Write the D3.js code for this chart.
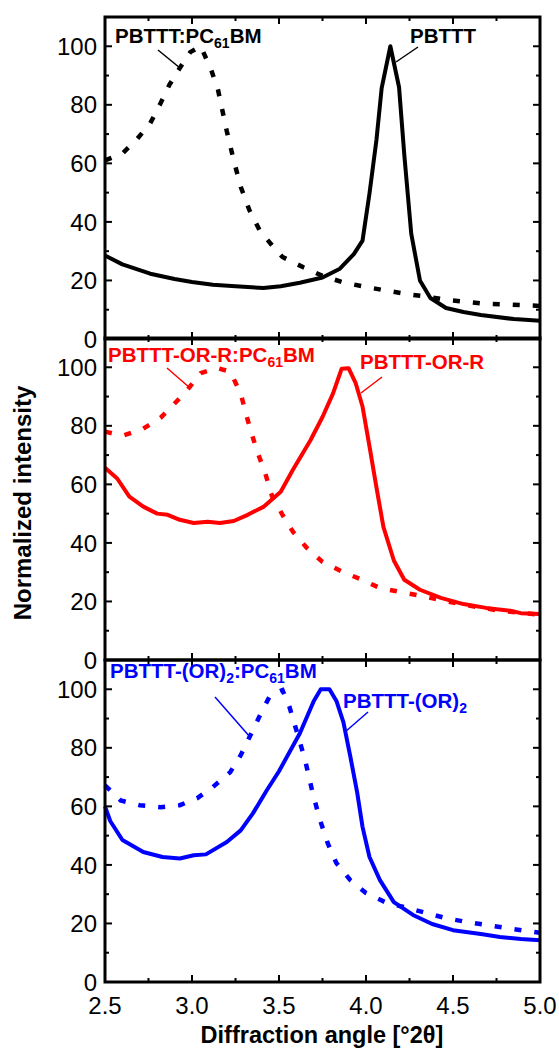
<!DOCTYPE html>
<html>
<head>
<meta charset="utf-8">
<script src="https://cdn.jsdelivr.net/npm/d3@7"></script>
<style>
  body { margin: 0; background: #fff; }
  text { font-family: "Liberation Sans", Arial, sans-serif; }
</style>
</head>
<body>
<script>
// diffraction angle / normalized intensity
var pbttt = [[2.5,28.5],[2.6,25.5],[2.76,22.3],[2.9,20.5],[3.0,19.5],[3.12,18.5],[3.25,18.0],[3.41,17.4],[3.51,18.0],[3.62,19.2],[3.75,21],[3.85,24],[3.93,29],[3.98,33.6],[4.02,49.7],[4.06,68],[4.09,85.7],[4.14,100],[4.19,86],[4.22,63],[4.26,36],[4.31,20],[4.37,14],[4.46,10.6],[4.56,9.2],[4.66,8.2],[4.85,6.8],[5.0,6.2]];
var pbtttBlend = [[2.5,61],[2.6,63.4],[2.68,68],[2.76,73.7],[2.82,80.6],[2.87,86.8],[2.93,92.6],[2.99,98],[3.05,100],[3.11,92],[3.15,85],[3.2,71],[3.24,61],[3.28,52],[3.33,44],[3.39,37],[3.46,32],[3.52,28],[3.64,24.5],[3.75,21.6],[3.87,19.3],[3.98,18],[4.12,16.5],[4.24,15.3],[4.35,14.5],[4.46,13.4],[4.58,12.7],[4.69,12],[4.81,11.8],[4.92,11.5],[5.0,11.3]];

var orR = [[2.5,65.7],[2.57,62],[2.64,55.8],[2.72,52.4],[2.8,50],[2.86,49.6],[2.93,47.9],[3.01,46.8],[3.09,47.2],[3.16,46.8],[3.24,47.5],[3.32,49.6],[3.41,52.3],[3.51,57.5],[3.58,65],[3.68,75],[3.75,83],[3.81,91],[3.86,99.5],[3.9,99.7],[3.94,94.7],[3.98,86.6],[4.02,73],[4.06,59],[4.1,45.5],[4.16,34],[4.22,27.4],[4.31,24],[4.43,21.2],[4.56,19.1],[4.69,17.8],[4.83,16.8],[4.89,16],[5.0,15.7]];
var orRBlend = [[2.5,78],[2.6,76.6],[2.72,79],[2.82,82.8],[2.89,87],[2.97,92],[3.05,98],[3.14,99.8],[3.22,98.5],[3.28,91],[3.32,82],[3.37,72],[3.42,64],[3.46,56],[3.52,49.6],[3.58,43.8],[3.66,38.3],[3.75,33.5],[3.87,30],[3.97,27.6],[4.08,24.6],[4.2,23.2],[4.31,22],[4.45,20.2],[4.6,18.5],[4.75,17],[4.9,16],[5.0,15.5]];

var or2 = [[2.5,60],[2.53,55],[2.6,48.5],[2.72,44.4],[2.83,42.7],[2.93,42.2],[3.01,43.3],[3.08,43.6],[3.2,47.8],[3.28,51.8],[3.35,57.6],[3.43,65.5],[3.5,72],[3.62,85],[3.7,96],[3.74,100],[3.79,100],[3.83,96],[3.87,88.8],[3.91,77],[3.95,64.5],[3.98,53],[4.02,42.7],[4.08,34.8],[4.16,27.3],[4.27,22.9],[4.38,19.8],[4.5,17.7],[4.66,16.4],[4.77,15.4],[4.89,14.7],[5.0,14.3]];
var or2Blend = [[2.5,67.2],[2.59,62],[2.7,60.4],[2.82,59.7],[2.93,60.4],[3.03,62.8],[3.12,66.6],[3.22,71.7],[3.28,77.5],[3.33,83.6],[3.39,91],[3.45,98],[3.52,99.7],[3.56,94],[3.6,86],[3.65,75.8],[3.69,65.5],[3.73,56.4],[3.78,47.4],[3.83,40.6],[3.91,34.8],[4.0,30.4],[4.12,27],[4.24,25.3],[4.35,23.5],[4.46,21.8],[4.58,20.5],[4.69,19.5],[4.81,18.4],[4.92,17.4],[5.0,16.8]];

var xTicks = [2.5, 3.0, 3.5, 4.0, 4.5, 5.0];
var yTicks = [0, 20, 40, 60, 80, 100];

var W = 559, H = 1051;
var left = 105, right = 540;
var panelTop = [17, 338, 660], panelH = 322;

var svg = d3.select("body").append("svg").attr("width", W).attr("height", H);

var x = d3.scaleLinear().domain([2.5, 5.0]).range([left, right]);

var panels = [
  {solid: pbttt, dash: pbtttBlend, color: "#000",
   labels: [
     {t: "PBTTT:PC", sub: "61", after: "BM", x: 115, y: 43, line: [[158,50],[180,68]]},
     {t: "PBTTT", x: 410, y: 43, line: [[418,47],[396,62]]}
   ]},
  {solid: orR, dash: orRBlend, color: "#ff0000",
   labels: [
     {t: "PBTTT-OR-R:PC", sub: "61", after: "BM", x: 108, y: 362, line: [[167,368],[190,388]]},
     {t: "PBTTT-OR-R", x: 360, y: 369, line: [[382,377],[361,393]]}
   ]},
  {solid: or2, dash: or2Blend, color: "#0000ff",
   labels: [
     {t: "PBTTT-(OR)", sub: "2", after: ":PC", sub2: "61", after2: "BM", x: 110, y: 678, line: [[215,697],[250,737]]},
     {t: "PBTTT-(OR)", sub: "2", x: 343, y: 708, line: [[368,712],[345,732]]}
   ]}
];

panels.forEach(function (p, i) {
  var top = panelTop[i], bottom = top + panelH;
  var y = d3.scaleLinear().domain([0, 110]).range([bottom, top]);
  var g = svg.append("g");

  var line = d3.line().x(function (d) { return x(d[0]); }).y(function (d) { return y(d[1]); });

  g.append("path").datum(p.dash).attr("d", line)
    .attr("fill", "none").attr("stroke", p.color).attr("stroke-width", 4.5)
    .attr("stroke-dasharray", "7,13");
  g.append("path").datum(p.solid).attr("d", line)
    .attr("fill", "none").attr("stroke", p.color).attr("stroke-width", 4)
    .attr("stroke-linejoin", "round");

  // inward ticks on all four sides
  var minorY = d3.range(10, 110, 20);
  var minorX = [2.75, 3.25, 3.75, 4.25, 4.75];
  var tk = g.append("g").attr("stroke", "#000").attr("stroke-width", 2);
  yTicks.concat(minorY).forEach(function (v) {
    var len = minorY.indexOf(v) >= 0 ? 4 : 7;
    tk.append("line").attr("x1", left).attr("x2", left + len).attr("y1", y(v)).attr("y2", y(v));
    tk.append("line").attr("x1", right).attr("x2", right - len).attr("y1", y(v)).attr("y2", y(v));
  });
  xTicks.concat(minorX).forEach(function (v) {
    var len = minorX.indexOf(v) >= 0 ? 4 : 7;
    tk.append("line").attr("x1", x(v)).attr("x2", x(v)).attr("y1", top).attr("y2", top + len);
    tk.append("line").attr("x1", x(v)).attr("x2", x(v)).attr("y1", bottom).attr("y2", bottom - len);
  });

  g.append("rect").attr("x", left).attr("y", top).attr("width", right - left).attr("height", panelH)
    .attr("fill", "none").attr("stroke", "#000").attr("stroke-width", 3);

  g.selectAll(".ylab").data(yTicks).enter().append("text")
    .attr("x", 97).attr("y", function (d) { return y(d); }).attr("dy", "0.36em")
    .attr("text-anchor", "end").attr("font-size", 24).attr("fill", "#000")
    .text(function (d) { return d; });

  p.labels.forEach(function (l) {
    var t = g.append("text").attr("x", l.x).attr("y", l.y)
      .attr("font-size", 20.5).attr("font-weight", "bold").attr("fill", p.color);
    t.append("tspan").text(l.t);
    if (l.sub) t.append("tspan").attr("font-size", 14).attr("dy", 5).text(l.sub);
    if (l.after) t.append("tspan").attr("dy", -5).text(l.after);
    if (l.sub2) t.append("tspan").attr("font-size", 14).attr("dy", 5).text(l.sub2);
    if (l.after2) t.append("tspan").attr("dy", -5).text(l.after2);
    g.append("line").attr("x1", l.line[0][0]).attr("y1", l.line[0][1])
      .attr("x2", l.line[1][0]).attr("y2", l.line[1][1])
      .attr("stroke", p.color).attr("stroke-width", 1.5);
  });

  if (i === 2) {
    g.selectAll(".xlab").data(xTicks).enter().append("text")
      .attr("x", function (d) { return x(d); }).attr("y", bottom + 32)
      .attr("text-anchor", "middle").attr("font-size", 24).attr("fill", "#000")
      .text(function (d) { return d.toFixed(1); });
  }
});

svg.append("text").attr("x", 322).attr("y", 1043).attr("text-anchor", "middle")
  .attr("font-size", 23.5).attr("font-weight", "bold").text("Diffraction angle [°2θ]");

svg.append("text").attr("transform", "translate(31,503) rotate(-90)").attr("text-anchor", "middle")
  .attr("font-size", 24).attr("font-weight", "bold").text("Normalized intensity");
</script>
</body>
</html>
